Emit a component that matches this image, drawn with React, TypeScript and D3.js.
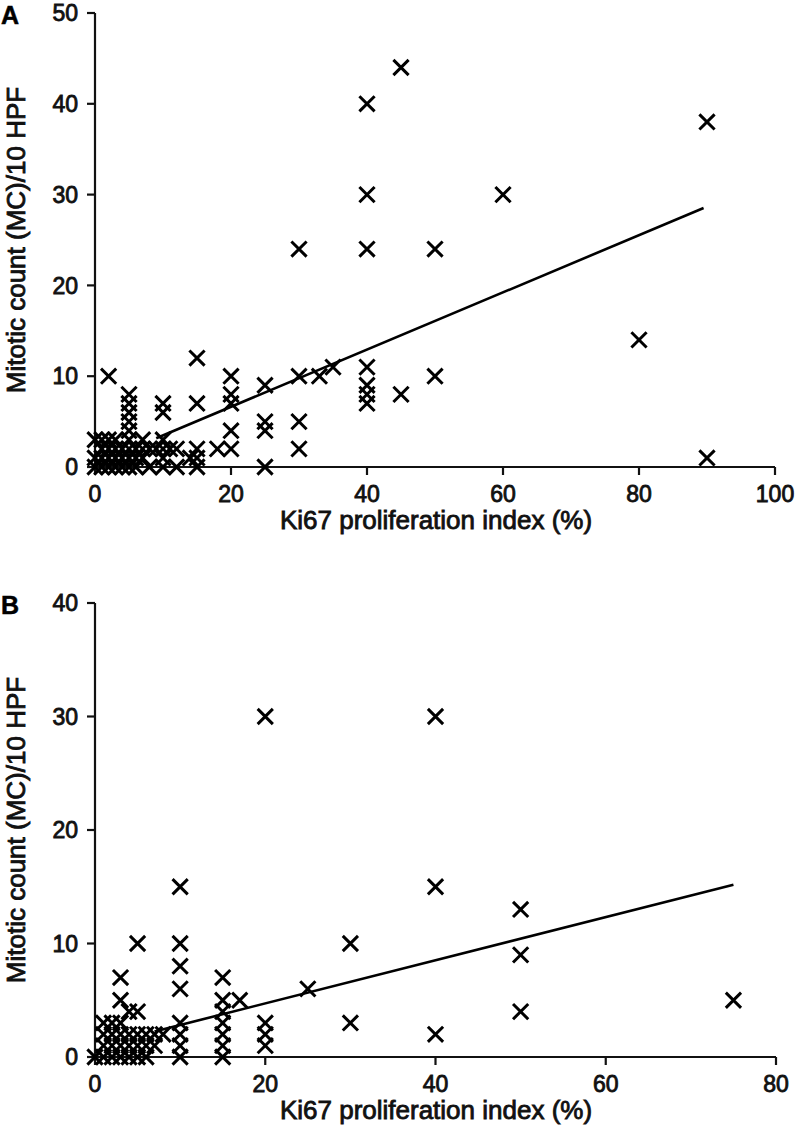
import React from "react";
import * as d3 from "d3";

// ---------- Data ----------
// Panel A: [Ki67 %, mitotic count]
const panelAPoints: [number, number][] = [
  [45, 44], [40, 40], [90, 38], [40, 30], [60, 30], [30, 24], [40, 24], [50, 24],
  [80, 14], [15, 12], [35, 11], [40, 11], [2, 10], [20, 10], [30, 10], [33, 10],
  [50, 10], [25, 9], [40, 9], [40, 8], [45, 8], [5, 8], [40, 7], [10, 7], [15, 7],
  [20, 8], [20, 7], [10, 6], [5, 6], [5, 7], [25, 5], [30, 5], [25, 4], [20, 4],
  [30, 2], [20, 2], [18, 2], [90, 1], [25, 0], [15, 2], [15, 1], [15, 0], [12, 2],
  [12, 0], [14, 1], [11, 2],
  [0, 3], [1, 3], [2, 3], [0, 0], [0, 1], [1, 0], [1, 1], [1, 2], [2, 0], [2, 1],
  [2, 2], [3, 0], [3, 1], [3, 2], [3, 3], [4, 0], [4, 1], [4, 2], [5, 0], [5, 1],
  [5, 2], [5, 3], [5, 4], [5, 5], [6, 0], [6, 1], [6, 2], [7, 1], [7, 2], [7, 3],
  [8, 0], [8, 2], [9, 2], [10, 0], [10, 1], [10, 2], [10, 3],
];
// Panel B
const panelBPoints: [number, number][] = [
  [20, 30], [40, 30], [10, 15], [40, 15], [50, 13], [5, 10], [10, 10], [30, 10],
  [50, 9], [10, 8], [3, 7], [15, 7], [10, 6], [25, 6], [3, 5], [15, 5], [17, 5],
  [75, 5], [4, 4], [5, 4], [50, 4], [15, 4], [30, 3], [20, 3], [10, 3], [15, 3],
  [40, 2], [20, 2], [10, 2], [15, 2], [20, 1], [10, 1], [15, 1], [10, 0], [15, 0],
  [0, 0], [1, 0], [1, 1], [1, 2], [1, 3], [2, 0], [2, 1], [2, 2], [2, 3], [3, 0],
  [3, 1], [3, 2], [3, 3], [4, 0], [4, 1], [4, 2], [5, 0], [5, 1], [5, 2], [6, 0],
  [6, 1], [6, 2], [7, 1], [7, 2], [8, 2],
];
// Fitted lines: [intercept, slope, xStart, xEnd]
const panelAFit = [0.33, 0.315, 9, 89.5];
const panelBFit = [0.92, 0.19, 7, 75];

const panelAXTicks = [0, 20, 40, 60, 80, 100];
const panelAYTicks = [0, 10, 20, 30, 40, 50];
const panelBXTicks = [0, 20, 40, 60, 80];
const panelBYTicks = [0, 10, 20, 30, 40];

const xTitle = "Ki67 proliferation index (%)";
const yTitle = "Mitotic count (MC)/10 HPF";

const FONT = "'Liberation Sans', Arial, Helvetica, sans-serif";

type PanelProps = {
  label: string;
  points: [number, number][];
  fit: number[];
  xMax: number;
  yMax: number;
  xTicks: number[];
  yTicks: number[];
  top: number;
  bottom: number;
};

function Panel({ label, points, fit, xMax, yMax, xTicks, yTicks, top, bottom }: PanelProps) {
  const left = 95;
  const right = xMax === 100 ? 775 : 776;
  const x = d3.scaleLinear().domain([0, xMax]).range([left, right]);
  const y = d3.scaleLinear().domain([0, yMax]).range([bottom, top]);
  const line = d3
    .line<number>()
    .x((d) => x(d))
    .y((d) => y(fit[0] + fit[1] * d));
  const s = 7.6;
  const textStyle = { fontFamily: FONT, fill: "#111", stroke: "#111", strokeWidth: 0.85 } as const;
  return (
    <g>
      <text x={1} y={top + 11} style={{ fontFamily: FONT, fontWeight: 700, fontSize: 25, fill: "#000", stroke: "#000", strokeWidth: 0.5 }}>
        {label}
      </text>
      {/* axes */}
      <path d={`M${left},${top}V${bottom}H${right}`} fill="none" stroke="#111" strokeWidth={2.2} />
      {yTicks.map((t) => (
        <g key={"y" + t}>
          <line x1={left - 8} x2={left} y1={y(t)} y2={y(t)} stroke="#111" strokeWidth={2.2} />
          <text x={78} y={y(t)} dy="0.36em" textAnchor="end" fontSize={23} style={textStyle}>
            {t}
          </text>
        </g>
      ))}
      {xTicks.map((t) => (
        <g key={"x" + t}>
          <line x1={x(t)} x2={x(t)} y1={bottom} y2={bottom + 8} stroke="#111" strokeWidth={2.2} />
          <text x={x(t)} y={bottom + 35} textAnchor="middle" fontSize={23} style={textStyle}>
            {t}
          </text>
        </g>
      ))}
      <text x={436} y={bottom + 62} textAnchor="middle" fontSize={26} style={textStyle}>
        {xTitle}
      </text>
      <text
        transform={`translate(25,${(top + bottom) / 2}) rotate(-90)`}
        textAnchor="middle"
        fontSize={26}
        style={textStyle}
      >
        {yTitle}
      </text>
      {/* regression */}
      <path d={line([fit[2], fit[3]]) || ""} fill="none" stroke="#000" strokeWidth={2.6} />
      {/* markers */}
      {points.map(([a, b], i) => (
        <path
          key={i}
          d={`M${x(a) - s},${y(b) - s}L${x(a) + s},${y(b) + s}M${x(a) - s},${y(b) + s}L${x(a) + s},${y(b) - s}`}
          stroke="#000"
          strokeWidth={3}
          fill="none"
        />
      ))}
    </g>
  );
}

export default function App() {
  return (
    <div style={{ position: "absolute", left: 0, top: 0, background: "#fff" }}>
      <svg width={798} height={1137} style={{ display: "block", background: "#fff" }}>
        <Panel label="A" points={panelAPoints} fit={panelAFit} xMax={100} yMax={50}
          xTicks={panelAXTicks} yTicks={panelAYTicks} top={13} bottom={467} />
        <Panel label="B" points={panelBPoints} fit={panelBFit} xMax={80} yMax={40}
          xTicks={panelBXTicks} yTicks={panelBYTicks} top={603} bottom={1057} />
      </svg>
    </div>
  );
}
